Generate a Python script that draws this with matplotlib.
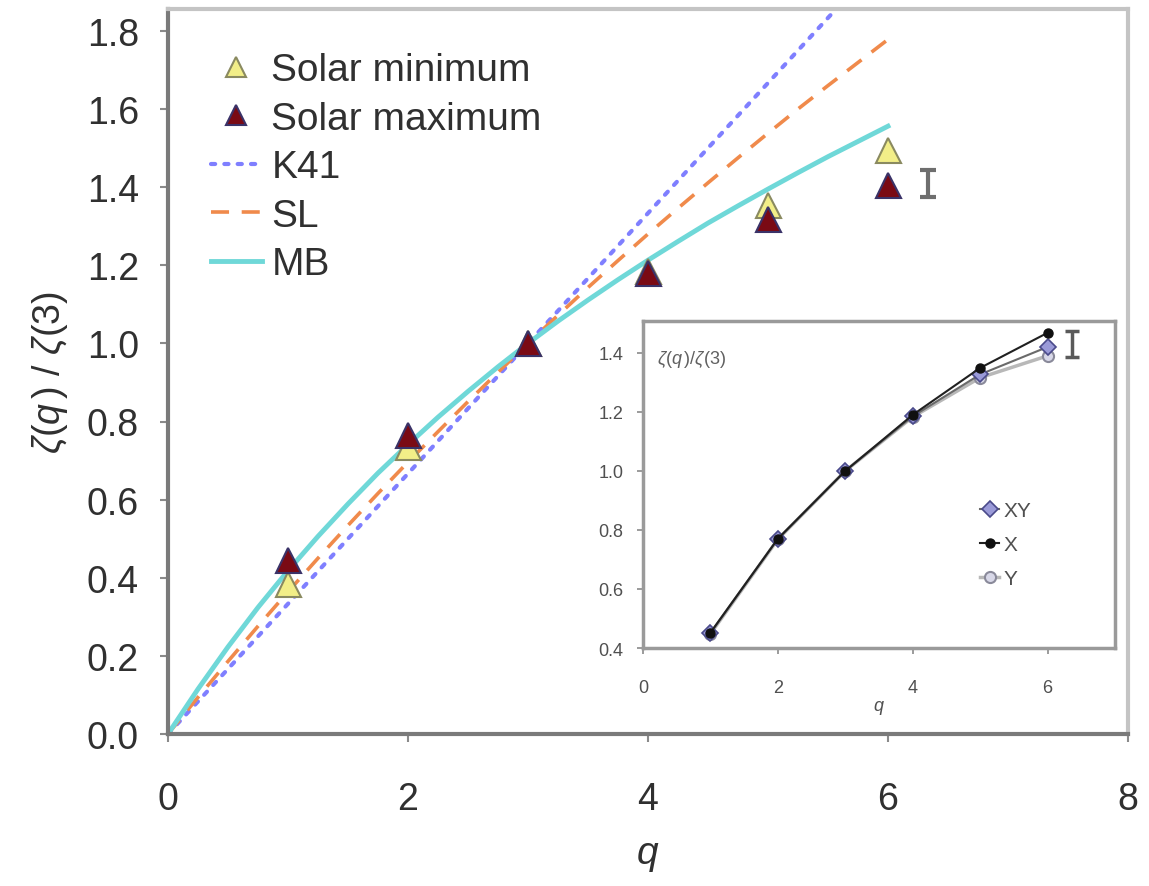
import matplotlib
matplotlib.use("Agg")
import matplotlib.pyplot as plt

plt.rcParams['font.family'] = ['Liberation Sans', 'DejaVu Sans']
plt.rcParams['mathtext.fontset'] = 'custom'
plt.rcParams['mathtext.rm'] = 'Liberation Sans'
plt.rcParams['mathtext.it'] = 'Liberation Sans:italic'

# ---- data ----
q_obs = [1, 2, 3, 4, 5, 6]
solar_min = [0.385, 0.735, 1.00, 1.185, 1.355, 1.495]
solar_max = [0.445, 0.765, 1.00, 1.18, 1.318, 1.405]

q_model = [0, 0.25, 0.5, 0.75, 1, 1.25, 1.5, 1.75, 2, 2.25, 2.5, 2.75, 3,
           3.25, 3.5, 3.75, 4, 4.25, 4.5, 4.75, 5, 5.25, 5.5, 5.75, 6]
sl_vals = [0, 0.094, 0.186, 0.276, 0.364, 0.450, 0.534, 0.616, 0.696, 0.774,
           0.851, 0.926, 1.0, 1.072, 1.143, 1.212, 1.280, 1.346, 1.411, 1.475,
           1.538, 1.600, 1.660, 1.719, 1.778]
mb_vals = [0, 0.115, 0.223, 0.324, 0.418, 0.506, 0.589, 0.668, 0.741, 0.811,
           0.877, 0.940, 1.0, 1.057, 1.111, 1.163, 1.213, 1.261, 1.308, 1.352,
           1.395, 1.437, 1.478, 1.517, 1.556]
q_k41 = [0, 6]
k41_vals = [0, 2.0]

err_q, err_y, err_h = 6.33, 1.41, 0.035

inset_q = [1, 2, 3, 4, 5, 6]
inset_xy = [0.45, 0.77, 1.00, 1.185, 1.327, 1.42]
inset_x = [0.452, 0.77, 1.00, 1.19, 1.349, 1.468]
inset_y = [0.448, 0.768, 1.00, 1.183, 1.316, 1.39]
inset_err_q, inset_err_y, inset_err_h = 6.36, 1.43, 0.045

main_xticks = [0, 2, 4, 6, 8]
main_yticks = [0.0, 0.2, 0.4, 0.6, 0.8, 1.0, 1.2, 1.4, 1.6, 1.8]
inset_xticks = [0, 2, 4, 6]
inset_yticks = [0.4, 0.6, 0.8, 1.0, 1.2, 1.4]

W, H = 1149, 887
fig = plt.figure(figsize=(W / 100, H / 100), dpi=100)

def px_axes(l, t, r, b):
    return [l / W, 1 - b / H, (r - l) / W, (b - t) / H]

ax = fig.add_axes(px_axes(168, 10, 1128, 735))
ax.set_xlim(0, 8)
ax.set_ylim(0, 1.856)

l_k41, = ax.plot(q_k41, k41_vals, color='#7f7fff', lw=3, ls=(0, (1, 2.2)),
                 dash_capstyle='round')
l_sl, = ax.plot(q_model, sl_vals, color='#f08a4b', lw=2.6, ls=(0, (5, 3.5)))
l_mb, = ax.plot(q_model, mb_vals, color='#6fd8d8', lw=3.5)
m_min, = ax.plot(q_obs, solar_min, ls='none', marker='^', ms=18,
                 mfc='#f2ee88', mec='#8a8a60', mew=1.5, zorder=5)
m_max, = ax.plot(q_obs, solar_max, ls='none', marker='^', ms=18,
                 mfc='#7a0a14', mec='#3a3268', mew=1.5, zorder=6)
ax.errorbar([err_q], [err_y], yerr=[err_h], fmt='none', ecolor='#6e6e6e',
            elinewidth=3, capsize=6, capthick=3)

ax.set_xticks(main_xticks)
ax.set_xticklabels([str(v) for v in main_xticks])
ax.set_yticks(main_yticks)
ax.set_yticklabels([f"{v:.1f}" for v in main_yticks])
ax.tick_params(axis='both', labelsize=27, colors='#8a8a8a', labelcolor='#303030',
               length=6, width=1.5, direction='out')
ax.tick_params(axis='x', pad=28)
ax.tick_params(axis='y', pad=15)
for s in ['left', 'bottom']:
    ax.spines[s].set_color('#7a7a7a')
    ax.spines[s].set_linewidth(3)
for s in ['top', 'right']:
    ax.spines[s].set_color('#c4c4c4')
    ax.spines[s].set_linewidth(3)

ax.set_xlabel(r'$q$', fontsize=28, color='#303030', labelpad=14)
ax.set_ylabel(r'$\zeta(q\,)\ /\ \zeta(3)$', fontsize=27, color='#303030', labelpad=12)

leg = ax.legend([m_min, m_max, l_k41, l_sl, l_mb],
                ['Solar minimum', 'Solar maximum', 'K41', 'SL', 'MB'],
                loc='upper left', bbox_to_anchor=(0.045, 0.94), frameon=False,
                fontsize=28, labelspacing=0.32, handlelength=1.3,
                handletextpad=0.25, borderpad=0, borderaxespad=0,
                markerscale=0.8)
for t in leg.get_texts():
    t.set_color('#303030')

# ---- inset ----
axi = fig.add_axes(px_axes(643, 322, 1115, 649))
axi.set_facecolor('white')
axi.set_xlim(0, 7)
axi.set_ylim(0.4, 1.508)
axi.plot(inset_q, inset_y, color='#b8b8b8', lw=2.5, marker='o', ms=8,
         mfc='#d8d8e8', mec='#8a8a9a', mew=1.5, label='Y', zorder=3)
axi.plot(inset_q, inset_xy, color='#6a6a6a', lw=1.5, marker='D', ms=8,
         mfc='#9a9ad8', mec='#4a4a8a', mew=1.2, label='XY', zorder=4)
axi.plot(inset_q, inset_x, color='#202020', lw=1.5, marker='o', ms=6.5,
         mfc='#101010', mec='#101010', label='X', zorder=5)
axi.errorbar([inset_err_q], [inset_err_y], yerr=[inset_err_h], fmt='none',
             ecolor='#5a5a5a', elinewidth=2.5, capsize=5, capthick=2.5)
h, lab = axi.get_legend_handles_labels()
order = [1, 2, 0]
lg2 = axi.legend([h[i] for i in order], [lab[i] for i in order],
                 loc='upper left', bbox_to_anchor=(0.715, 0.45), frameon=False,
                 fontsize=15, labelspacing=0.72, handlelength=0.9,
                 handletextpad=0.2, borderpad=0, borderaxespad=0)
for t in lg2.get_texts():
    t.set_color('#505050')
axi.set_xticks(inset_xticks)
axi.set_xticklabels([str(v) for v in inset_xticks])
axi.set_yticks(inset_yticks)
axi.set_yticklabels([f"{v:.1f}" for v in inset_yticks])
axi.tick_params(axis='both', labelsize=13, colors='#8a8a8a', labelcolor='#505050',
                length=4, width=1.2, direction='out')
axi.tick_params(axis='x', pad=18)
axi.tick_params(axis='y', pad=10)
for s in axi.spines.values():
    s.set_color('#9a9a9a')
    s.set_linewidth(2.5)
axi.set_xlabel(r'$q$', fontsize=13, color='#505050', labelpad=2)
axi.text(0.03, 0.885, r'$\zeta(q\,)/\zeta(3)$', transform=axi.transAxes,
         fontsize=13, color='#606060', va='center', ha='left')

fig.savefig('out.png', dpi=100)
